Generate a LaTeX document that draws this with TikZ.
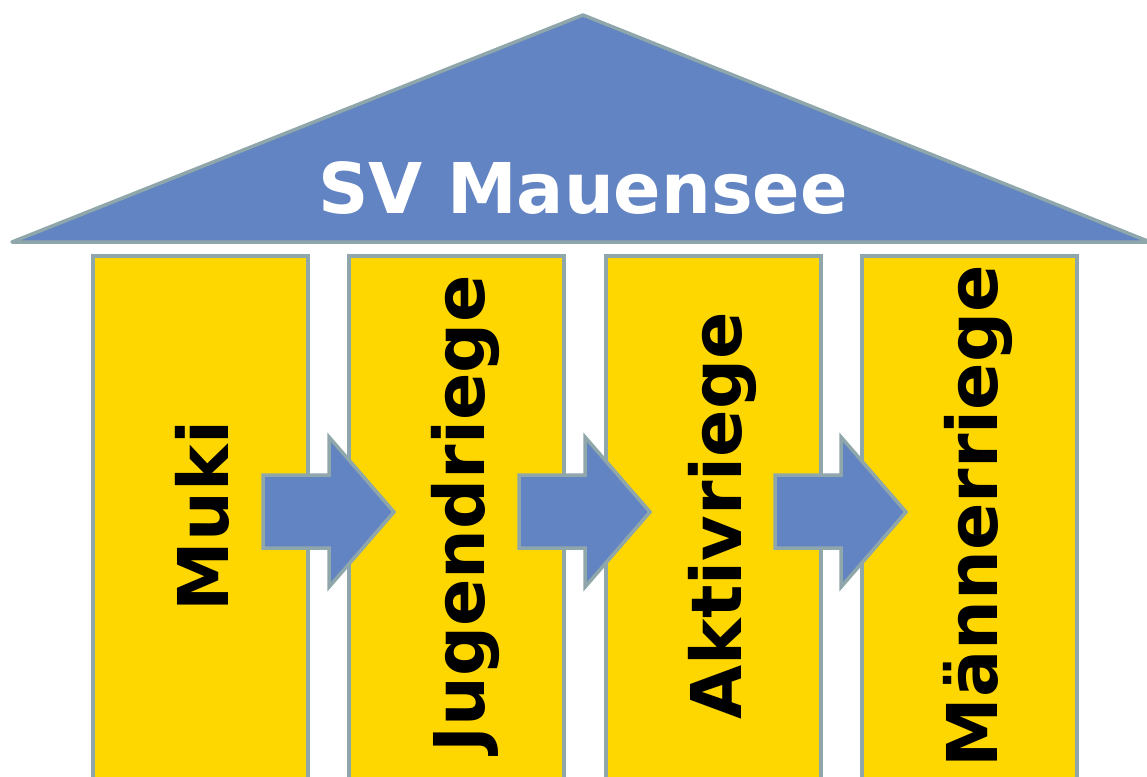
\documentclass[tikz,border=0pt]{standalone}
\usepackage{fontspec}
\setmainfont{DejaVu Sans}
\definecolor{roofblue}{RGB}{98,132,194}
\definecolor{pillaryellow}{RGB}{255,215,0}
\definecolor{edgegray}{RGB}{143,166,170}
\begin{document}
\begin{tikzpicture}[x=1pt,y=-1pt,
  pillar/.style={draw=edgegray,line width=3.5pt,fill=pillaryellow,rectangle,
    minimum width=215pt,minimum height=540pt,anchor=north west,inner sep=0pt,outer sep=0pt},
  pillartext/.style={rotate=90,anchor=base,font=\fontsize{70}{84}\selectfont\bfseries,text=black,inner sep=0pt},
  rooftext/.style={anchor=base,font=\fontsize{70}{84}\selectfont\bfseries,text=white,inner sep=0pt},
  blockarrow/.style={draw=edgegray,line width=3.5pt,fill=roofblue,line join=miter}]
\useasboundingbox (0,0) rectangle (1147,776);
\clip (0,0) rectangle (1147,776);
% roof
\coordinate (apex) at (583,15);
\coordinate (roofL) at (12,242);
\coordinate (roofR) at (1150,242);
\draw[draw=edgegray,line width=3.5pt,fill=roofblue,line join=round] (roofL) -- (apex) -- (roofR) -- cycle;
\node[rooftext] (title) at (583,213) {SV Mauensee};
% pillars
\node[pillar] (p1) at (93,256) {};
\node[pillar] (p2) at (349,256) {};
\node[pillar] (p3) at (606,256) {};
\node[pillar] (p4) at (862,256) {};
\node[pillartext] (t1) at (228,516) {Muki};
\node[pillartext] (t2) at (484,514) {Jugendriege};
\node[pillartext] (t3) at (741,516) {Aktivriege};
\node[pillartext] (t4) at (997,516) {Männerriege};
% arrows
\foreach \dx/\n in {0/1,256/2,512/3}{
  \draw[blockarrow,shift={(\dx,0)}] (263,475) -- (329,475) -- (329,437) -- (394,512)
     -- (329,587) -- (329,548) -- (263,548) -- cycle;
}
\end{tikzpicture}
\end{document}
